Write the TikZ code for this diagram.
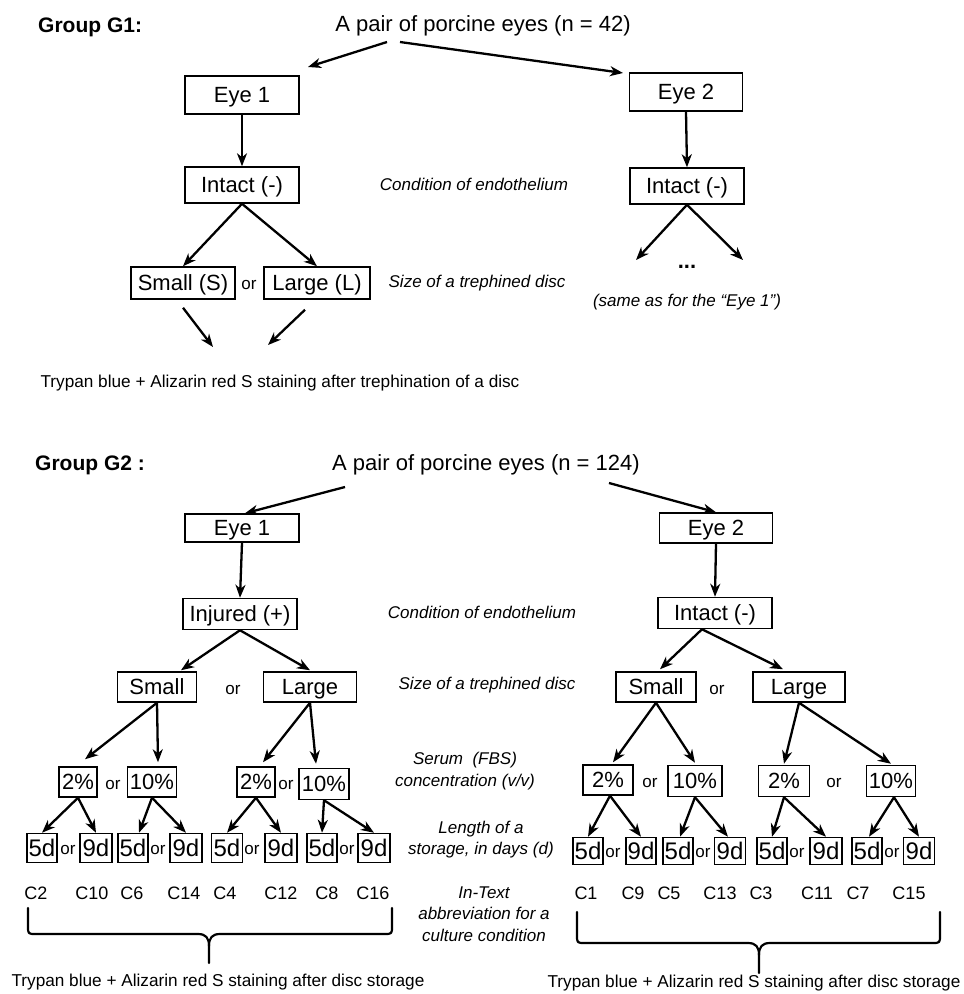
\documentclass[tikz,border=0pt]{standalone}
\usepackage{fontspec}
\setmainfont{Liberation Sans}
\usetikzlibrary{arrows.meta,calc}
\begin{document}
\begin{tikzpicture}[x=1pt,y=-1pt,
  box/.style={draw, line width=1.5pt, inner sep=0pt, text height=15.8pt, text depth=0pt, font=\fontsize{22}{26}\selectfont},
  dbox/.style={draw, line width=1.5pt, inner sep=0pt, text height=17pt, text depth=0pt, font=\fontsize{24}{26}\selectfont},
  arr/.style={-{Stealth[length=13pt,width=10pt,inset=4pt]}, line width=2.3pt},
  lbl/.style={font=\fontsize{17}{21.5}\selectfont\itshape, align=center, inner sep=0pt},
  ortxt/.style={font=\fontsize{17}{20}\selectfont, inner sep=0pt},
  ctxt/.style={font=\fontsize{18}{20}\selectfont, inner sep=0pt},
  ttl/.style={font=\fontsize{22}{26}\selectfont, inner sep=0pt},
  grp/.style={font=\fontsize{21}{25}\selectfont\bfseries, anchor=west, inner sep=0pt},
  stain/.style={font=\fontsize{17.2}{20}\selectfont, inner sep=0pt},
  brace/.style={line width=2.2pt, line cap=round, line join=round}
]
\useasboundingbox[fill=white] (0,0) rectangle (964,994);

%================ GROUP G1 ================
\node[grp] (g1) at (38,27) {Group G1:};
\node[ttl] (t1) at (483,26) {A pair of porcine eyes (n = 42)};
\coordinate (t1l) at (387,42);
\coordinate (t1r) at (400,42);
\coordinate (t1le) at (308,67);
\coordinate (t1re) at (623,73);

\node[box, minimum width=114pt, minimum height=38pt] (e1a) at (242,95) {Eye 1};
\node[box, minimum width=113pt, minimum height=38pt] (e2a) at (686,92) {Eye 2};
\node[box, minimum width=114pt, minimum height=36pt] (i1a) at (242,185) {Intact (-)};
\node[box, minimum width=114pt, minimum height=36pt] (i2a) at (687,186) {Intact (-)};
\node[lbl] (lab1) at (474,184) {Condition of endothelium};

\node[box, minimum width=104pt, minimum height=32pt] (sa) at (183,283) {Small (S)};
\node[ortxt] (or1) at (249,285) {or};
\node[box, minimum width=106pt, minimum height=32pt] (la) at (317,283) {Large (L)};
\node[lbl] (lab2) at (477,283) {Size of a trephined disc};

\coordinate (c1) at (213,347);
\coordinate (c2) at (268,345);
\coordinate (r1) at (636,260);
\coordinate (r2) at (743,260);
\node[font=\fontsize{22}{24}\selectfont\bfseries, inner sep=0pt] (dots) at (687,267) {...};
\node[lbl] (same) at (687,302) {(same as for the “Eye 1”)};
\node[stain] (tr1) at (280,383) {Trypan blue + Alizarin red S staining after trephination of a disc};

\draw[arr] (t1l) -- (t1le);
\draw[arr] (t1r) -- (t1re);
\draw[arr] (e1a.south) -- (i1a.north);
\draw[arr] (e2a.south) -- (i2a.north);
\draw[arr] (i1a.south) -- (sa.north);
\draw[arr] (i1a.south) -- (la.north);
\draw[arr] ([yshift=-8pt]sa.south) -- (c1);
\draw[arr] ([xshift=-12pt,yshift=-10pt]la.south) -- (c2);
\draw[arr] (i2a.south) -- (r1);
\draw[arr] (i2a.south) -- (r2);

%================ GROUP G2 ================
\node[grp] (g2) at (35,465) {Group G2 :};
\node[ttl] (t2) at (486,465) {A pair of porcine eyes (n = 124)};
\coordinate (t2l) at (345,487);
\coordinate (t2r) at (609,483);

\node[box, minimum width=114pt, minimum height=28pt] (e1b) at (242,528) {Eye 1};
\node[box, minimum width=113pt, minimum height=30pt] (e2b) at (716,528) {Eye 2};
\node[box, minimum width=114pt, minimum height=31pt] (inj) at (240,614) {Injured (+)};
\node[box, minimum width=114pt, minimum height=31pt] (i2b) at (715,613) {Intact (-)};
\node[lbl] (lab3) at (482,612) {Condition of endothelium};

\node[box, minimum width=79pt, minimum height=30pt] (sb1) at (157,687) {Small};
\node[ortxt] (or2) at (233,690) {or};
\node[box, minimum width=93pt, minimum height=30pt] (lb1) at (310,687) {Large};
\node[box, minimum width=80pt, minimum height=30pt] (sb2) at (656,687) {Small};
\node[ortxt] (or3) at (717,690) {or};
\node[box, minimum width=92pt, minimum height=30pt] (lb2) at (799,687) {Large};
\node[lbl] (lab4) at (487,685) {Size of a trephined disc};

% serum level
\node[box, minimum width=38pt, minimum height=30pt] (p1) at (78,782) {2\%};
\node[ortxt] (or4) at (113,785) {or};
\node[box, minimum width=49pt, minimum height=30pt] (q1) at (152,782) {10\%};
\node[box, minimum width=38pt, minimum height=30pt] (p2) at (256,782) {2\%};
\node[ortxt] (or5) at (286,785) {or};
\node[box, minimum width=50pt, minimum height=31pt] (q2) at (324,784) {10\%};
\node[box, minimum width=50pt, minimum height=30pt] (p3) at (608,780) {2\%};
\node[ortxt] (or6) at (650,783) {or};
\node[box, minimum width=54pt, minimum height=31pt] (q3) at (695,781) {10\%};
\node[box, minimum width=51pt, minimum height=31pt] (p4) at (784,781) {2\%};
\node[ortxt] (or7) at (834,783) {or};
\node[box, minimum width=49pt, minimum height=31pt] (q4) at (891,781) {10\%};
\node[lbl] (lab5) at (465,771) {Serum\ \ (FBS)\\concentration (v/v)};

% days level
\node[dbox, minimum width=30pt, minimum height=29pt] (d1) at (42,848) {5d};
\node[ortxt] (o1) at (68,850) {or};
\node[dbox, minimum width=32pt, minimum height=29pt] (d2) at (96,848) {9d};
\node[dbox, minimum width=30pt, minimum height=29pt] (d3) at (133,848) {5d};
\node[ortxt] (o2) at (158,850) {or};
\node[dbox, minimum width=32pt, minimum height=29pt] (d4) at (186,848) {9d};
\node[dbox, minimum width=31pt, minimum height=29pt] (d5) at (227,848) {5d};
\node[ortxt] (o3) at (252,850) {or};
\node[dbox, minimum width=32pt, minimum height=29pt] (d6) at (281,848) {9d};
\node[dbox, minimum width=30pt, minimum height=29pt] (d7) at (322,848) {5d};
\node[ortxt] (o4) at (347,850) {or};
\node[dbox, minimum width=32pt, minimum height=29pt] (d8) at (374,848) {9d};

\node[dbox, minimum width=30pt, minimum height=27pt] (d9) at (588,851) {5d};
\node[ortxt] (o5) at (613,853) {or};
\node[dbox, minimum width=30pt, minimum height=27pt] (d10) at (641,851) {9d};
\node[dbox, minimum width=30pt, minimum height=27pt] (d11) at (678,851) {5d};
\node[ortxt] (o6) at (703,853) {or};
\node[dbox, minimum width=31pt, minimum height=27pt] (d12) at (730,851) {9d};
\node[dbox, minimum width=30pt, minimum height=27pt] (d13) at (772,851) {5d};
\node[ortxt] (o7) at (797,853) {or};
\node[dbox, minimum width=32pt, minimum height=27pt] (d14) at (826,851) {9d};
\node[dbox, minimum width=30pt, minimum height=27pt] (d15) at (867,851) {5d};
\node[ortxt] (o8) at (892,853) {or};
\node[dbox, minimum width=31pt, minimum height=27pt] (d16) at (919,851) {9d};
\node[lbl] (lab6) at (481,839.5) {Length of a\\storage, in days (d)};

% culture condition labels
\node[ctxt] (C2) at (36,893) {C2};
\node[ctxt] (C10) at (92,893) {C10};
\node[ctxt] (C6) at (132,893) {C6};
\node[ctxt] (C14) at (184,893) {C14};
\node[ctxt] (C4) at (225,893) {C4};
\node[ctxt] (C12) at (281,893) {C12};
\node[ctxt] (C8) at (327,893) {C8};
\node[ctxt] (C16) at (373,893) {C16};
\node[ctxt] (C1) at (586,893) {C1};
\node[ctxt] (C9) at (633,893) {C9};
\node[ctxt] (C5) at (669,893) {C5};
\node[ctxt] (C13) at (720,893) {C13};
\node[ctxt] (C3) at (761,893) {C3};
\node[ctxt] (C11) at (817,893) {C11};
\node[ctxt] (C7) at (858,893) {C7};
\node[ctxt] (C15) at (909,893) {C15};
\node[lbl] (lab7) at (484,914) {In-Text\\abbreviation for a\\culture condition};

\node[stain] (tr2) at (218,982) {Trypan blue + Alizarin red S staining after disc storage};
\node[stain] (tr3) at (754,983) {Trypan blue + Alizarin red S staining after disc storage};

% G2 arrows
\draw[arr] (t2l) -- ([xshift=3pt]e1b.north);
\draw[arr] (t2r) -- (e2b.north);
\draw[arr] (e1b.south) -- (inj.north);
\draw[arr] (e2b.south) -- (i2b.north);
\draw[arr] (inj.south) -- ([xshift=24pt,yshift=1pt]sb1.north);
\draw[arr] (inj.south) -- ([yshift=1pt]lb1.north);
\draw[arr] ([xshift=-13pt]i2b.south) -- ([xshift=4pt,yshift=2pt]sb2.north);
\draw[arr] ([xshift=-13pt]i2b.south) -- ([xshift=-16pt,yshift=2pt]lb2.north);

\draw[arr] (sb1.south) -- ([xshift=7pt,yshift=7pt]p1.north);
\draw[arr] (sb1.south) -- ([xshift=6pt,yshift=4pt]q1.north);
\draw[arr] (lb1.south) -- ([xshift=7pt,yshift=4pt]p2.north);
\draw[arr] (lb1.south) -- ([xshift=-8pt,yshift=4pt]q2.north);
\draw[arr] (sb2.south) -- ([xshift=5pt,yshift=2pt]p3.north);
\draw[arr] (sb2.south) -- ([yshift=2pt]q3.north);
\draw[arr] (lb2.south) -- ([yshift=1pt]p4.north);
\draw[arr] (lb2.south) -- ([yshift=1pt]q4.north);

\draw[arr] (p1.south) -- (d1.north);
\draw[arr] (p1.south) -- (d2.north);
\draw[arr] (q1.south) -- ([xshift=6pt]d3.north);
\draw[arr] (q1.south) -- (d4.north);
\draw[arr] (p2.south) -- (d5.north);
\draw[arr] (p2.south) -- (d6.north);
\draw[arr] (q2.south) -- (d7.north);
\draw[arr] (q2.south) -- (d8.north);
\draw[arr] ([xshift=2pt]p3.south) -- (d9.north);
\draw[arr] ([xshift=2pt]p3.south) -- (d10.north);
\draw[arr] (q3.south) -- ([xshift=2pt]d11.north);
\draw[arr] (q3.south) -- ([xshift=-2pt]d12.north);
\draw[arr] (p4.south) -- (d13.north);
\draw[arr] (p4.south) -- (d14.north);
\draw[arr] ([xshift=3pt]q4.south) -- ([xshift=2pt]d15.north);
\draw[arr] ([xshift=3pt]q4.south) -- (d16.north);

% braces
\draw[brace] (28,908) -- (28,926) .. controls (28,934) .. (36,934) -- (198,934)
   .. controls (206,934) and (209,938) .. (209,946) -- (209,963);
\draw[brace] (392,908) -- (392,926) .. controls (392,934) .. (384,934) -- (220,934)
   .. controls (212,934) and (209,938) .. (209,946);
\draw[brace] (577,912) -- (577,935) .. controls (577,943) .. (585,943) -- (748,943)
   .. controls (756,943) and (759,947) .. (759,955) -- (759,973);
\draw[brace] (940,912) -- (940,935) .. controls (940,943) .. (932,943) -- (770,943)
   .. controls (762,943) and (759,947) .. (759,955);
\end{tikzpicture}
\end{document}
